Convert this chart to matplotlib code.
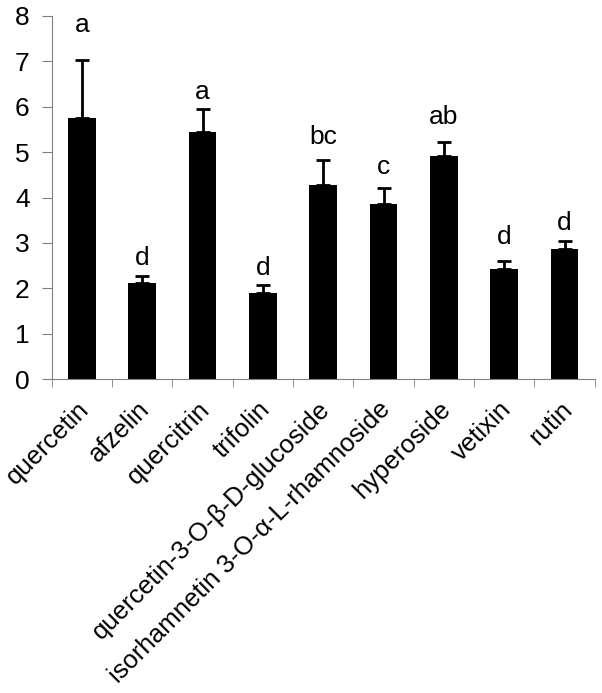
import matplotlib.pyplot as plt
import matplotlib.transforms as mtransforms
import numpy as np

plt.rcParams['font.family'] = ['Liberation Sans', 'DejaVu Sans']

compounds = ["quercetin", "afzelin", "quercitrin", "trifolin",
             "quercetin-3-O-β-D-glucoside", "isorhamnetin 3-O-α-L-rhamnoside",
             "hyperoside", "vetixin", "rutin"]
means = [5.76, 2.11, 5.45, 1.89, 4.27, 3.85, 4.92, 2.43, 2.87]
errors = [1.27, 0.17, 0.49, 0.18, 0.55, 0.36, 0.30, 0.18, 0.18]
letters = ["a", "d", "a", "d", "bc", "c", "ab", "d", "d"]
letter_y = [7.8, 2.66, 6.32, 2.44, 5.33, 4.67, 5.77, 3.13, 3.44]

fig = plt.figure(figsize=(6.02, 6.93), dpi=100)
ax = fig.add_axes([0.086, 0.453, 0.902, 0.524])

x = np.arange(len(compounds))
ax.bar(x, means, width=0.46, color='black', zorder=2)
ax.errorbar(x, means, yerr=[np.zeros(len(errors)), errors], fmt='none',
            ecolor='black', elinewidth=2, capsize=5, capthick=2, zorder=3)

for xi, lab, ly in zip(x, letters, letter_y):
    ax.text(xi, ly, lab, ha='center', va='center', fontsize=19)

ax.set_xlim(-0.5, len(compounds) - 0.5)
ax.set_ylim(0, 8)
ax.set_yticks(range(0, 9))
ax.tick_params(axis='y', labelsize=19, length=7, color='#808080', direction='out', pad=9)

ax.set_xticks(x)
ax.set_xticklabels(compounds, rotation=45, ha='right', rotation_mode='anchor', fontsize=18.5)
ax.tick_params(axis='x', which='major', length=0, pad=8)
ax.set_xticks(np.arange(-0.5, len(compounds), 1), minor=True)
ax.tick_params(axis='x', which='minor', length=6, color='#808080', direction='out')

# nudge rotated labels down-left like the original
shift = mtransforms.ScaledTranslation(-5 / 100, -7 / 100, fig.dpi_scale_trans)
for lbl in ax.get_xticklabels():
    lbl.set_transform(lbl.get_transform() + shift)

for side in ['top', 'right']:
    ax.spines[side].set_visible(False)
for side in ['left', 'bottom']:
    ax.spines[side].set_color('#808080')

fig.savefig("out.png", dpi=100)
